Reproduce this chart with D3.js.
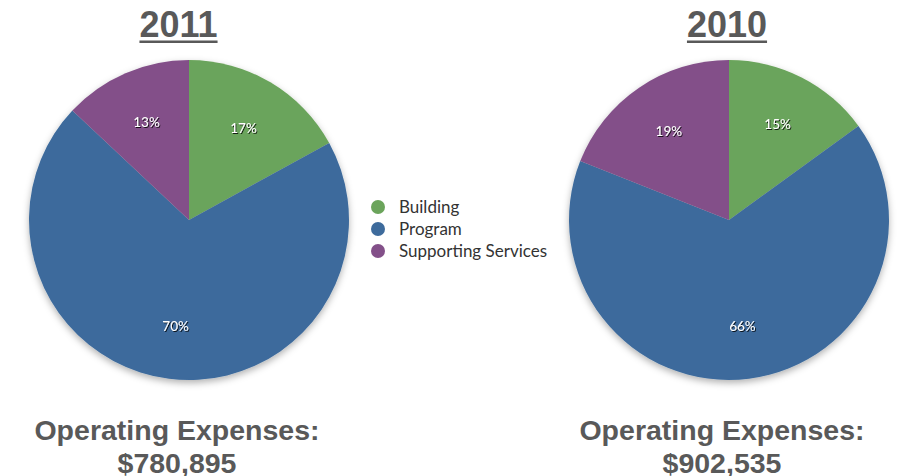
<!DOCTYPE html>
<html lang="en">
<head>
  <meta charset="utf-8">
  <title>Operating Expenses</title>
  <script src="https://d3js.org/d3.v7.min.js"></script>
  <style>
    body { margin: 0; background: #fff; }
    .title { font-family: "Liberation Sans", Arial, sans-serif; font-weight: bold; fill: #595959; }
    .slice-label { font-family: Lato, "Open Sans", sans-serif; font-size: 13.5px; fill: #fff; }
    .legend-text { font-family: Lato, "Open Sans", sans-serif; font-size: 17px; fill: #333; }
  </style>
</head>
<body>
  <svg id="chart"></svg>
  <script>
  const categories = ["Building", "Program", "Supporting Services"];
  const colors = ["#6ba45b", "#3e6b9c", "#835089"];
  const years = ["2011", "2010"];
  const values2011 = [17, 70, 13];
  const values2010 = [15, 66, 19];
  const totals = ["$780,895", "$902,535"];

  const width = 898, height = 476;
  const radius = 160;
  const pies = [
    { year: years[0], values: values2011, total: totals[0], cx: 189, titleX: 178.5, footX: 177 },
    { year: years[1], values: values2010, total: totals[1], cx: 729, titleX: 727, footX: 722 }
  ];

  const svg = d3.select("#chart").attr("width", width).attr("height", height);

  const defs = svg.append("defs");
  const shadow = defs.append("filter").attr("id", "pieShadow")
    .attr("x", "-20%").attr("y", "-20%").attr("width", "140%").attr("height", "140%");
  shadow.append("feDropShadow").attr("dx", 0).attr("dy", 3).attr("stdDeviation", 3.5)
    .attr("flood-color", "#000").attr("flood-opacity", 0.3);
  const textShadow = defs.append("filter").attr("id", "textShadow");
  textShadow.append("feDropShadow").attr("dx", 1).attr("dy", 1).attr("stdDeviation", 0.6)
    .attr("flood-color", "#000").attr("flood-opacity", 0.8);

  const pie = d3.pie().sort(null).value(d => d);
  const arc = d3.arc().innerRadius(0).outerRadius(radius);
  const labelArc = d3.arc().innerRadius(107).outerRadius(107);

  pies.forEach(p => {
    const g = svg.append("g").attr("transform", `translate(${p.cx},220)`);
    const arcs = pie(p.values);
    g.append("g").attr("filter", "url(#pieShadow)")
      .selectAll("path").data(arcs).enter()
      .append("path")
      .attr("d", arc)
      .attr("fill", (d, i) => colors[i]);
    g.selectAll("text").data(arcs).enter()
      .append("text")
      .attr("class", "slice-label")
      .attr("filter", "url(#textShadow)")
      .attr("transform", d => `translate(${labelArc.centroid(d)})`)
      .attr("text-anchor", "middle")
      .attr("dy", "0.35em")
      .text(d => d.data + "%");

    // year title with underline
    const t = svg.append("text").attr("class", "title")
      .attr("x", p.titleX).attr("y", 37)
      .attr("text-anchor", "middle")
      .style("font-size", "36px")
      .text(p.year);
    const w = t.node().getComputedTextLength();
    svg.append("rect").attr("x", p.titleX - w / 2).attr("y", 40.5)
      .attr("width", w).attr("height", 2.5).attr("fill", "#595959");

    svg.append("text").attr("class", "title")
      .attr("x", p.footX).attr("y", 440)
      .attr("text-anchor", "middle")
      .style("font-size", "28.5px")
      .text("Operating Expenses:");
    svg.append("text").attr("class", "title")
      .attr("x", p.footX).attr("y", 473)
      .attr("text-anchor", "middle")
      .style("font-size", "28.5px")
      .text(p.total);
  });

  const legend = svg.append("g").attr("transform", "translate(378,207)");
  const item = legend.selectAll("g").data(categories).enter()
    .append("g").attr("transform", (d, i) => `translate(0,${i * 22})`);
  item.append("circle").attr("r", 7).attr("fill", (d, i) => colors[i]);
  item.append("text").attr("class", "legend-text")
    .attr("x", 21).attr("dy", "0.35em").text(d => d);
  </script>
</body>
</html>
